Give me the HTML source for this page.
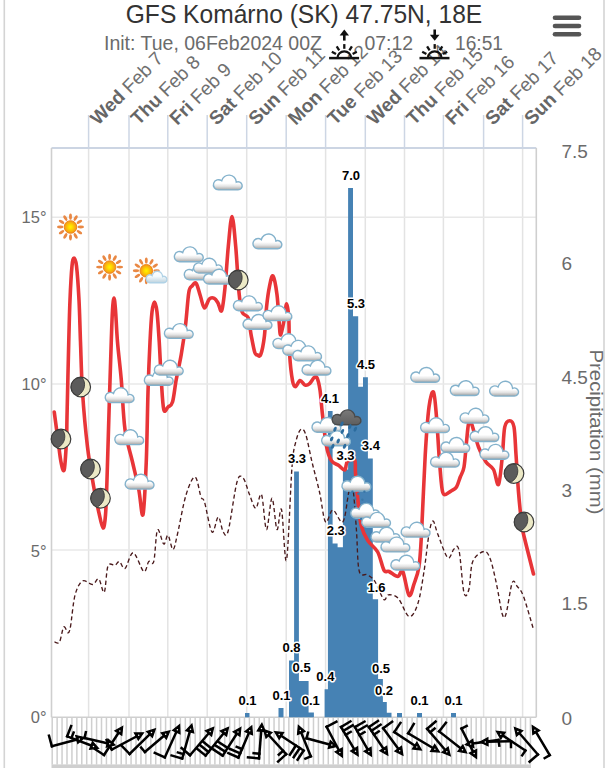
<!DOCTYPE html><html><head><meta charset="utf-8"><style>html,body{margin:0;padding:0;background:#fff;}body{position:relative;width:608px;height:768px;overflow:hidden;}svg{display:block;}</style></head><body>
<svg width="608" height="768" viewBox="0 0 608 768" font-family="Liberation Sans, sans-serif">
<defs><radialGradient id="sunG" cx="0.5" cy="0.5" r="0.5"><stop offset="0" stop-color="#fff500"/><stop offset="0.35" stop-color="#ffd800"/><stop offset="0.8" stop-color="#f7a814"/><stop offset="1" stop-color="#ef8a1a"/></radialGradient><linearGradient id="cloudG" x1="0" y1="0" x2="0" y2="1"><stop offset="0" stop-color="#ffffff"/><stop offset="0.55" stop-color="#ffffff"/><stop offset="0.75" stop-color="#e4e4e4"/><stop offset="0.92" stop-color="#b9b9b9"/><stop offset="1" stop-color="#9a9a9a"/></linearGradient><linearGradient id="cloudG2" x1="0" y1="0" x2="0" y2="1"><stop offset="0" stop-color="#ffffff"/><stop offset="0.45" stop-color="#f4fafd"/><stop offset="1" stop-color="#bcd2de"/></linearGradient><linearGradient id="darkG" x1="0" y1="0" x2="0" y2="1"><stop offset="0" stop-color="#7a7a7a"/><stop offset="1" stop-color="#5e5e5e"/></linearGradient></defs>
<rect width="608" height="768" fill="#fff"/>
<rect x="3.5" y="0" width="1.6" height="768" fill="#d4d4d4"/>
<rect x="603.2" y="0" width="1.6" height="768" fill="#d4d4d4"/>
<text x="304" y="22.6" font-size="25.8" fill="#333" text-anchor="middle" textLength="356.5" lengthAdjust="spacingAndGlyphs">GFS Komárno (SK) 47.75N, 18E</text>
<text x="104" y="49.8" font-size="20" fill="#6b6b6b" textLength="218" lengthAdjust="spacingAndGlyphs">Init: Tue, 06Feb2024 00Z</text>
<text x="364.4" y="49.8" font-size="20" fill="#6b6b6b" textLength="48.6" lengthAdjust="spacingAndGlyphs">07:12</text>
<text x="455" y="49.8" font-size="20" fill="#6b6b6b" textLength="48" lengthAdjust="spacingAndGlyphs">16:51</text>
<line x1="555" y1="17.8" x2="579" y2="17.8" stroke="#555" stroke-width="4.6" stroke-linecap="round"/>
<line x1="555" y1="26.0" x2="579" y2="26.0" stroke="#555" stroke-width="4.6" stroke-linecap="round"/>
<line x1="555" y1="34.2" x2="579" y2="34.2" stroke="#555" stroke-width="4.6" stroke-linecap="round"/>
<text transform="translate(98.10,126.00) rotate(-45)" font-size="19" fill="#666"><tspan font-weight="bold">Wed</tspan><tspan fill="#707070"> Feb 7</tspan></text>
<text transform="translate(138.50,126.00) rotate(-45)" font-size="19" fill="#666"><tspan font-weight="bold">Thu</tspan><tspan fill="#707070"> Feb 8</tspan></text>
<text transform="translate(177.30,126.00) rotate(-45)" font-size="19" fill="#666"><tspan font-weight="bold">Fri</tspan><tspan fill="#707070"> Feb 9</tspan></text>
<text transform="translate(216.70,126.00) rotate(-45)" font-size="19" fill="#666"><tspan font-weight="bold">Sat</tspan><tspan fill="#707070"> Feb 10</tspan></text>
<text transform="translate(256.20,126.00) rotate(-45)" font-size="19" fill="#666"><tspan font-weight="bold">Sun</tspan><tspan fill="#707070"> Feb 11</tspan></text>
<text transform="translate(295.70,126.00) rotate(-45)" font-size="19" fill="#666"><tspan font-weight="bold">Mon</tspan><tspan fill="#707070"> Feb 12</tspan></text>
<text transform="translate(335.10,126.00) rotate(-45)" font-size="19" fill="#666"><tspan font-weight="bold">Tue</tspan><tspan fill="#707070"> Feb 13</tspan></text>
<text transform="translate(374.80,126.00) rotate(-45)" font-size="19" fill="#666"><tspan font-weight="bold">Wed</tspan><tspan fill="#707070"> Feb 14</tspan></text>
<text transform="translate(414.00,126.00) rotate(-45)" font-size="19" fill="#666"><tspan font-weight="bold">Thu</tspan><tspan fill="#707070"> Feb 15</tspan></text>
<text transform="translate(452.90,126.00) rotate(-45)" font-size="19" fill="#666"><tspan font-weight="bold">Fri</tspan><tspan fill="#707070"> Feb 16</tspan></text>
<text transform="translate(493.10,126.00) rotate(-45)" font-size="19" fill="#666"><tspan font-weight="bold">Sat</tspan><tspan fill="#707070"> Feb 17</tspan></text>
<text transform="translate(532.10,126.00) rotate(-45)" font-size="19" fill="#666"><tspan font-weight="bold">Sun</tspan><tspan fill="#707070"> Feb 18</tspan></text>
<g stroke="#111" fill="none" stroke-linecap="butt"><line x1="329.1" y1="58.1" x2="359.1" y2="58.1" stroke-width="2.5"/><path d="M337.5,58.1 A6.8,6.8 0 0 1 351.1,58.1" stroke-width="2.2"/><line x1="352.6" y1="53.9" x2="356.8" y2="51.7" stroke-width="2.3"/><line x1="349.4" y1="50.3" x2="351.9" y2="46.4" stroke-width="2.3"/><line x1="344.3" y1="48.8" x2="344.3" y2="44.1" stroke-width="2.3"/><line x1="339.2" y1="50.3" x2="336.7" y2="46.4" stroke-width="2.3"/><line x1="336.0" y1="53.9" x2="331.8" y2="51.7" stroke-width="2.3"/></g><line x1="344.3" y1="40.6" x2="344.3" y2="35.0" stroke="#111" stroke-width="2.6"/><path d="M339.6,35.6 L344.3,29.6 L349.0,35.6 Z" fill="#111"/>
<g stroke="#111" fill="none" stroke-linecap="butt"><line x1="419.5" y1="58.1" x2="449.5" y2="58.1" stroke-width="2.5"/><path d="M427.9,58.1 A6.8,6.8 0 0 1 441.5,58.1" stroke-width="2.2"/><line x1="443.0" y1="53.9" x2="447.2" y2="51.7" stroke-width="2.3"/><line x1="439.8" y1="50.3" x2="442.3" y2="46.4" stroke-width="2.3"/><line x1="434.7" y1="48.8" x2="434.7" y2="44.1" stroke-width="2.3"/><line x1="429.6" y1="50.3" x2="427.1" y2="46.4" stroke-width="2.3"/><line x1="426.4" y1="53.9" x2="422.2" y2="51.7" stroke-width="2.3"/></g><line x1="434.7" y1="29.5" x2="434.7" y2="35.5" stroke="#111" stroke-width="2.6"/><path d="M429.9,34.8 L434.7,40.8 L439.5,34.8 Z" fill="#111"/>
<line x1="88.60" y1="115" x2="88.60" y2="148" stroke="#cdd6e4" stroke-width="1.5"/>
<line x1="129.00" y1="115" x2="129.00" y2="148" stroke="#cdd6e4" stroke-width="1.5"/>
<line x1="167.80" y1="115" x2="167.80" y2="148" stroke="#cdd6e4" stroke-width="1.5"/>
<line x1="207.20" y1="115" x2="207.20" y2="148" stroke="#cdd6e4" stroke-width="1.5"/>
<line x1="246.70" y1="115" x2="246.70" y2="148" stroke="#cdd6e4" stroke-width="1.5"/>
<line x1="286.20" y1="115" x2="286.20" y2="148" stroke="#cdd6e4" stroke-width="1.5"/>
<line x1="325.60" y1="115" x2="325.60" y2="148" stroke="#cdd6e4" stroke-width="1.5"/>
<line x1="365.30" y1="115" x2="365.30" y2="148" stroke="#cdd6e4" stroke-width="1.5"/>
<line x1="404.50" y1="115" x2="404.50" y2="148" stroke="#cdd6e4" stroke-width="1.5"/>
<line x1="443.40" y1="115" x2="443.40" y2="148" stroke="#cdd6e4" stroke-width="1.5"/>
<line x1="483.60" y1="115" x2="483.60" y2="148" stroke="#cdd6e4" stroke-width="1.5"/>
<line x1="522.60" y1="115" x2="522.60" y2="148" stroke="#cdd6e4" stroke-width="1.5"/>
<line x1="88.60" y1="148" x2="88.60" y2="717" stroke="#e3e3e3" stroke-width="1.5"/>
<line x1="129.00" y1="148" x2="129.00" y2="717" stroke="#e3e3e3" stroke-width="1.5"/>
<line x1="167.80" y1="148" x2="167.80" y2="717" stroke="#e3e3e3" stroke-width="1.5"/>
<line x1="207.20" y1="148" x2="207.20" y2="717" stroke="#e3e3e3" stroke-width="1.5"/>
<line x1="246.70" y1="148" x2="246.70" y2="717" stroke="#e3e3e3" stroke-width="1.5"/>
<line x1="286.20" y1="148" x2="286.20" y2="717" stroke="#e3e3e3" stroke-width="1.5"/>
<line x1="325.60" y1="148" x2="325.60" y2="717" stroke="#e3e3e3" stroke-width="1.5"/>
<line x1="365.30" y1="148" x2="365.30" y2="717" stroke="#e3e3e3" stroke-width="1.5"/>
<line x1="404.50" y1="148" x2="404.50" y2="717" stroke="#e3e3e3" stroke-width="1.5"/>
<line x1="443.40" y1="148" x2="443.40" y2="717" stroke="#e3e3e3" stroke-width="1.5"/>
<line x1="483.60" y1="148" x2="483.60" y2="717" stroke="#e3e3e3" stroke-width="1.5"/>
<line x1="522.60" y1="148" x2="522.60" y2="717" stroke="#e3e3e3" stroke-width="1.5"/>
<line x1="51.5" y1="217.2" x2="536.3" y2="217.2" stroke="#e8e8e8" stroke-width="1.5"/>
<line x1="51.5" y1="384.0" x2="536.3" y2="384.0" stroke="#e8e8e8" stroke-width="1.5"/>
<line x1="51.5" y1="550.0" x2="536.3" y2="550.0" stroke="#e8e8e8" stroke-width="1.5"/>
<line x1="51.5" y1="148" x2="536.3" y2="148" stroke="#ccd5e3" stroke-width="2"/>
<line x1="51.5" y1="148" x2="51.5" y2="717.2" stroke="#cfcfcf" stroke-width="1.6"/>
<line x1="536.3" y1="148" x2="536.3" y2="717.2" stroke="#cfcfcf" stroke-width="1.6"/>
<text x="46.5" y="223.4" font-size="16.5" fill="#6b6b6b" text-anchor="end">15°</text>
<text x="46.5" y="390.0" font-size="16.5" fill="#6b6b6b" text-anchor="end">10°</text>
<text x="46.5" y="556.5" font-size="16.5" fill="#6b6b6b" text-anchor="end">5°</text>
<text x="46.5" y="723.4" font-size="16.5" fill="#6b6b6b" text-anchor="end">0°</text>
<text x="561.5" y="157.5" font-size="19" fill="#6b6b6b">7.5</text>
<text x="561.5" y="270.2" font-size="19" fill="#6b6b6b">6</text>
<text x="561.5" y="384.2" font-size="19" fill="#6b6b6b">4.5</text>
<text x="561.5" y="496.9" font-size="19" fill="#6b6b6b">3</text>
<text x="561.5" y="610.3" font-size="19" fill="#6b6b6b">1.5</text>
<text x="561.5" y="724.6" font-size="19" fill="#6b6b6b">0</text>
<text transform="translate(589.5,432) rotate(90)" font-size="19" fill="#6b6b6b" text-anchor="middle" textLength="165" lengthAdjust="spacingAndGlyphs">Precipitation (mm)</text>
<rect x="51.5" y="717.2" width="479.5" height="47.5" fill="#fff"/>
<rect x="51.45" y="717.2" width="1.5" height="47.4" fill="#cfcfcf"/>
<rect x="56.38" y="717.2" width="1.5" height="47.4" fill="#cfcfcf"/>
<rect x="61.31" y="717.2" width="1.5" height="47.4" fill="#cfcfcf"/>
<rect x="66.24" y="717.2" width="1.5" height="47.4" fill="#cfcfcf"/>
<rect x="71.17" y="717.2" width="1.5" height="47.4" fill="#cfcfcf"/>
<rect x="76.10" y="717.2" width="1.5" height="47.4" fill="#cfcfcf"/>
<rect x="81.03" y="717.2" width="1.5" height="47.4" fill="#cfcfcf"/>
<rect x="85.96" y="717.2" width="1.5" height="47.4" fill="#cfcfcf"/>
<rect x="90.89" y="717.2" width="1.5" height="47.4" fill="#cfcfcf"/>
<rect x="95.82" y="717.2" width="1.5" height="47.4" fill="#cfcfcf"/>
<rect x="100.75" y="717.2" width="1.5" height="47.4" fill="#cfcfcf"/>
<rect x="105.68" y="717.2" width="1.5" height="47.4" fill="#cfcfcf"/>
<rect x="110.61" y="717.2" width="1.5" height="47.4" fill="#cfcfcf"/>
<rect x="115.54" y="717.2" width="1.5" height="47.4" fill="#cfcfcf"/>
<rect x="120.47" y="717.2" width="1.5" height="47.4" fill="#cfcfcf"/>
<rect x="125.40" y="717.2" width="1.5" height="47.4" fill="#cfcfcf"/>
<rect x="130.33" y="717.2" width="1.5" height="47.4" fill="#cfcfcf"/>
<rect x="135.26" y="717.2" width="1.5" height="47.4" fill="#cfcfcf"/>
<rect x="140.19" y="717.2" width="1.5" height="47.4" fill="#cfcfcf"/>
<rect x="145.12" y="717.2" width="1.5" height="47.4" fill="#cfcfcf"/>
<rect x="150.05" y="717.2" width="1.5" height="47.4" fill="#cfcfcf"/>
<rect x="154.98" y="717.2" width="1.5" height="47.4" fill="#cfcfcf"/>
<rect x="159.91" y="717.2" width="1.5" height="47.4" fill="#cfcfcf"/>
<rect x="164.84" y="717.2" width="1.5" height="47.4" fill="#cfcfcf"/>
<rect x="169.77" y="717.2" width="1.5" height="47.4" fill="#cfcfcf"/>
<rect x="174.70" y="717.2" width="1.5" height="47.4" fill="#cfcfcf"/>
<rect x="179.63" y="717.2" width="1.5" height="47.4" fill="#cfcfcf"/>
<rect x="184.56" y="717.2" width="1.5" height="47.4" fill="#cfcfcf"/>
<rect x="189.49" y="717.2" width="1.5" height="47.4" fill="#cfcfcf"/>
<rect x="194.42" y="717.2" width="1.5" height="47.4" fill="#cfcfcf"/>
<rect x="199.35" y="717.2" width="1.5" height="47.4" fill="#cfcfcf"/>
<rect x="204.28" y="717.2" width="1.5" height="47.4" fill="#cfcfcf"/>
<rect x="209.21" y="717.2" width="1.5" height="47.4" fill="#cfcfcf"/>
<rect x="214.14" y="717.2" width="1.5" height="47.4" fill="#cfcfcf"/>
<rect x="219.07" y="717.2" width="1.5" height="47.4" fill="#cfcfcf"/>
<rect x="224.00" y="717.2" width="1.5" height="47.4" fill="#cfcfcf"/>
<rect x="228.93" y="717.2" width="1.5" height="47.4" fill="#cfcfcf"/>
<rect x="233.86" y="717.2" width="1.5" height="47.4" fill="#cfcfcf"/>
<rect x="238.79" y="717.2" width="1.5" height="47.4" fill="#cfcfcf"/>
<rect x="243.72" y="717.2" width="1.5" height="47.4" fill="#cfcfcf"/>
<rect x="248.65" y="717.2" width="1.5" height="47.4" fill="#cfcfcf"/>
<rect x="253.58" y="717.2" width="1.5" height="47.4" fill="#cfcfcf"/>
<rect x="258.51" y="717.2" width="1.5" height="47.4" fill="#cfcfcf"/>
<rect x="263.44" y="717.2" width="1.5" height="47.4" fill="#cfcfcf"/>
<rect x="268.37" y="717.2" width="1.5" height="47.4" fill="#cfcfcf"/>
<rect x="273.30" y="717.2" width="1.5" height="47.4" fill="#cfcfcf"/>
<rect x="278.23" y="717.2" width="1.5" height="47.4" fill="#cfcfcf"/>
<rect x="283.16" y="717.2" width="1.5" height="47.4" fill="#cfcfcf"/>
<rect x="288.09" y="717.2" width="1.5" height="47.4" fill="#cfcfcf"/>
<rect x="293.02" y="717.2" width="1.5" height="47.4" fill="#cfcfcf"/>
<rect x="297.95" y="717.2" width="1.5" height="47.4" fill="#cfcfcf"/>
<rect x="302.88" y="717.2" width="1.5" height="47.4" fill="#cfcfcf"/>
<rect x="307.81" y="717.2" width="1.5" height="47.4" fill="#cfcfcf"/>
<rect x="312.74" y="717.2" width="1.5" height="47.4" fill="#cfcfcf"/>
<rect x="317.67" y="717.2" width="1.5" height="47.4" fill="#cfcfcf"/>
<rect x="322.60" y="717.2" width="1.5" height="47.4" fill="#cfcfcf"/>
<rect x="327.53" y="717.2" width="1.5" height="47.4" fill="#cfcfcf"/>
<rect x="332.46" y="717.2" width="1.5" height="47.4" fill="#cfcfcf"/>
<rect x="337.39" y="717.2" width="1.5" height="47.4" fill="#cfcfcf"/>
<rect x="342.32" y="717.2" width="1.5" height="47.4" fill="#cfcfcf"/>
<rect x="347.25" y="717.2" width="1.5" height="47.4" fill="#cfcfcf"/>
<rect x="352.18" y="717.2" width="1.5" height="47.4" fill="#cfcfcf"/>
<rect x="357.11" y="717.2" width="1.5" height="47.4" fill="#cfcfcf"/>
<rect x="362.04" y="717.2" width="1.5" height="47.4" fill="#cfcfcf"/>
<rect x="366.97" y="717.2" width="1.5" height="47.4" fill="#cfcfcf"/>
<rect x="371.90" y="717.2" width="1.5" height="47.4" fill="#cfcfcf"/>
<rect x="376.83" y="717.2" width="1.5" height="47.4" fill="#cfcfcf"/>
<rect x="381.76" y="717.2" width="1.5" height="47.4" fill="#cfcfcf"/>
<rect x="386.69" y="717.2" width="1.5" height="47.4" fill="#cfcfcf"/>
<rect x="391.62" y="717.2" width="1.5" height="47.4" fill="#cfcfcf"/>
<rect x="396.55" y="717.2" width="1.5" height="47.4" fill="#cfcfcf"/>
<rect x="401.48" y="717.2" width="1.5" height="47.4" fill="#cfcfcf"/>
<rect x="406.41" y="717.2" width="1.5" height="47.4" fill="#cfcfcf"/>
<rect x="411.34" y="717.2" width="1.5" height="47.4" fill="#cfcfcf"/>
<rect x="416.27" y="717.2" width="1.5" height="47.4" fill="#cfcfcf"/>
<rect x="421.20" y="717.2" width="1.5" height="47.4" fill="#cfcfcf"/>
<rect x="426.13" y="717.2" width="1.5" height="47.4" fill="#cfcfcf"/>
<rect x="431.06" y="717.2" width="1.5" height="47.4" fill="#cfcfcf"/>
<rect x="435.99" y="717.2" width="1.5" height="47.4" fill="#cfcfcf"/>
<rect x="440.92" y="717.2" width="1.5" height="47.4" fill="#cfcfcf"/>
<rect x="445.85" y="717.2" width="1.5" height="47.4" fill="#cfcfcf"/>
<rect x="450.78" y="717.2" width="1.5" height="47.4" fill="#cfcfcf"/>
<rect x="455.71" y="717.2" width="1.5" height="47.4" fill="#cfcfcf"/>
<rect x="460.64" y="717.2" width="1.5" height="47.4" fill="#cfcfcf"/>
<rect x="465.57" y="717.2" width="1.5" height="47.4" fill="#cfcfcf"/>
<rect x="470.50" y="717.2" width="1.5" height="47.4" fill="#cfcfcf"/>
<rect x="475.43" y="717.2" width="1.5" height="47.4" fill="#cfcfcf"/>
<rect x="480.36" y="717.2" width="1.5" height="47.4" fill="#cfcfcf"/>
<rect x="485.29" y="717.2" width="1.5" height="47.4" fill="#cfcfcf"/>
<rect x="490.22" y="717.2" width="1.5" height="47.4" fill="#cfcfcf"/>
<rect x="495.15" y="717.2" width="1.5" height="47.4" fill="#cfcfcf"/>
<rect x="500.08" y="717.2" width="1.5" height="47.4" fill="#cfcfcf"/>
<rect x="505.01" y="717.2" width="1.5" height="47.4" fill="#cfcfcf"/>
<rect x="509.94" y="717.2" width="1.5" height="47.4" fill="#cfcfcf"/>
<rect x="514.87" y="717.2" width="1.5" height="47.4" fill="#cfcfcf"/>
<rect x="519.80" y="717.2" width="1.5" height="47.4" fill="#cfcfcf"/>
<rect x="524.73" y="717.2" width="1.5" height="47.4" fill="#cfcfcf"/>
<rect x="529.66" y="717.2" width="1.5" height="47.4" fill="#cfcfcf"/>
<line x1="51.5" y1="717.2" x2="536.3" y2="717.2" stroke="#cfcfcf" stroke-width="1.6"/>
<rect x="51.5" y="764.4" width="479.5" height="3.6" fill="#cfcfcf"/>
<path d="M245.00,713.00H249.50V717.2H245.00ZM278.50,708.00H283.50V717.2H278.50ZM289.00,660.50H294.10V717.2H289.00ZM294.10,471.50H298.90V717.2H294.10ZM298.90,681.00H308.60V717.2H298.90ZM308.60,712.60H313.90V717.2H308.60ZM324.60,689.20H327.90V717.2H324.60ZM327.90,411.00H332.60V717.2H327.90ZM332.60,543.50H337.60V717.2H332.60ZM337.60,547.20H342.90V717.2H337.60ZM342.90,469.60H348.10V717.2H342.90ZM348.10,188.00H353.00V717.2H348.10ZM353.00,316.30H358.20V717.2H353.00ZM358.20,386.80H363.00V717.2H358.20ZM363.00,377.20H367.90V717.2H363.00ZM367.90,458.50H372.80V717.2H367.90ZM372.80,599.20H378.10V717.2H372.80ZM378.10,679.00H382.90V717.2H378.10ZM382.90,702.00H386.80V717.2H382.90ZM386.80,712.80H391.50V717.2H386.80ZM397.00,713.00H402.00V717.2H397.00ZM417.00,713.00H422.00V717.2H417.00ZM451.00,713.00H456.00V717.2H451.00Z" fill="#4682b4"/>
<path d="M54.50,642.00 C55.33,642.00 57.96,644.50 59.50,642.00 C61.04,639.50 62.33,628.54 63.75,627.00 C65.17,625.46 66.88,632.83 68.00,632.75 C69.12,632.67 69.33,632.75 70.50,626.50 C71.67,620.25 73.00,602.83 75.00,595.25 C77.00,587.67 79.58,582.79 82.50,581.00 C85.42,579.21 89.79,584.83 92.50,584.50 C95.21,584.17 96.79,577.71 98.75,579.00 C100.71,580.29 102.71,594.42 104.25,592.25 C105.79,590.08 106.21,570.50 108.00,566.00 C109.79,561.50 113.08,566.00 115.00,565.25 C116.92,564.50 117.83,560.96 119.50,561.50 C121.17,562.04 122.71,569.96 125.00,568.50 C127.29,567.04 130.12,552.25 133.25,552.75 C136.38,553.25 141.17,570.04 143.75,571.50 C146.33,572.96 147.08,563.17 148.75,561.50 C150.42,559.83 152.29,566.75 153.75,561.50 C155.21,556.25 155.83,532.92 157.50,530.00 C159.17,527.08 162.00,543.12 163.75,544.00 C165.50,544.88 166.46,534.33 168.00,535.25 C169.54,536.17 171.42,549.71 173.00,549.50 C174.58,549.29 175.33,543.08 177.50,534.00 C179.67,524.92 183.08,504.50 186.00,495.00 C188.92,485.50 192.50,476.67 195.00,477.00 C197.50,477.33 199.42,492.83 201.00,497.00 C202.58,501.17 202.67,496.17 204.50,502.00 C206.33,507.83 209.71,529.50 212.00,532.00 C214.29,534.50 216.38,517.00 218.25,517.00 C220.12,517.00 221.58,529.71 223.25,532.00 C224.92,534.29 225.96,539.08 228.25,530.75 C230.54,522.42 234.50,490.75 237.00,482.00 C239.50,473.25 241.17,476.17 243.25,478.25 C245.33,480.33 247.42,489.50 249.50,494.50 C251.58,499.50 253.75,508.25 255.75,508.25 C257.75,508.25 259.71,490.96 261.50,494.50 C263.29,498.04 264.75,528.88 266.50,529.50 C268.25,530.12 270.25,498.25 272.00,498.25 C273.75,498.25 275.42,527.62 277.00,529.50 C278.58,531.38 279.92,504.42 281.50,509.50 C283.08,514.58 284.75,567.08 286.50,560.00 C288.25,552.92 290.46,486.67 292.00,467.00 C293.54,447.33 294.29,448.25 295.75,442.00 C297.21,435.75 299.08,430.75 300.75,429.50 C302.42,428.25 303.88,429.08 305.75,434.50 C307.62,439.92 309.71,452.42 312.00,462.00 C314.29,471.58 317.25,482.02 319.50,492.00 C321.75,501.98 323.28,518.90 325.50,521.90 C327.72,524.90 329.92,510.00 332.80,510.00 C335.68,510.00 340.22,524.47 342.80,521.90 C345.38,519.33 346.93,501.58 348.30,494.60 C349.67,487.62 350.10,480.00 351.00,480.00 C351.90,480.00 352.78,486.10 353.70,494.60 C354.62,503.10 355.58,518.27 356.50,531.00 C357.42,543.73 357.38,563.70 359.20,571.00 C361.02,578.30 364.82,573.10 367.40,574.80 C369.98,576.50 371.97,577.10 374.70,581.20 C377.43,585.30 381.52,597.13 383.80,599.40 C386.08,601.67 385.97,594.95 388.40,594.80 C390.83,594.65 394.97,594.88 398.40,598.50 C401.83,602.12 405.77,615.58 409.00,616.50 C412.23,617.42 415.25,611.50 417.75,604.00 C420.25,596.50 422.12,583.17 424.00,571.50 C425.88,559.83 427.50,542.42 429.00,534.00 C430.50,525.58 431.54,521.00 433.00,521.00 C434.46,521.00 435.29,527.88 437.75,534.00 C440.21,540.12 445.04,555.25 447.75,557.75 C450.46,560.25 452.12,550.25 454.00,549.00 C455.88,547.75 457.33,542.96 459.00,550.25 C460.67,557.54 462.33,586.29 464.00,592.75 C465.67,599.21 467.54,594.21 469.00,589.00 C470.46,583.79 470.25,567.75 472.75,561.50 C475.25,555.25 481.08,551.92 484.00,551.50 C486.92,551.08 488.17,553.58 490.25,559.00 C492.33,564.42 494.50,574.83 496.50,584.00 C498.50,593.17 500.67,609.00 502.25,614.00 C503.83,619.00 504.33,619.21 506.00,614.00 C507.67,608.79 510.38,587.33 512.25,582.75 C514.12,578.17 515.38,584.21 517.25,586.50 C519.12,588.79 520.88,589.62 523.50,596.50 C526.12,603.38 531.42,622.54 533.00,627.75" fill="none" stroke="#4a1a1c" stroke-width="1.35" stroke-dasharray="4.2,2.8"/>
<path d="M54.25,412.00 C54.88,416.67 56.88,431.67 58.00,440.00 C59.12,448.33 59.96,457.08 61.00,462.00 C62.04,466.92 63.33,473.17 64.25,469.50 C65.17,465.83 66.04,448.75 66.50,440.00 C66.96,431.25 66.62,433.33 67.00,417.00 C67.38,400.67 68.25,361.50 68.75,342.00 C69.25,322.50 69.46,312.67 70.00,300.00 C70.54,287.33 71.33,273.00 72.00,266.00 C72.67,259.00 73.25,258.00 74.00,258.00 C74.75,258.00 75.67,259.00 76.50,266.00 C77.33,273.00 78.33,287.33 79.00,300.00 C79.67,312.67 79.92,326.67 80.50,342.00 C81.08,357.33 81.33,374.50 82.50,392.00 C83.67,409.50 85.62,431.17 87.50,447.00 C89.38,462.83 91.88,476.17 93.75,487.00 C95.62,497.83 97.21,505.17 98.75,512.00 C100.29,518.83 101.88,527.50 103.00,528.00 C104.12,528.50 104.83,523.08 105.50,515.00 C106.17,506.92 106.38,497.92 107.00,479.50 C107.62,461.08 108.54,427.42 109.25,404.50 C109.96,381.58 110.71,357.75 111.25,342.00 C111.79,326.25 112.04,317.33 112.50,310.00 C112.96,302.67 113.50,298.00 114.00,298.00 C114.50,298.00 114.92,302.67 115.50,310.00 C116.08,317.33 116.54,330.42 117.50,342.00 C118.46,353.58 120.00,364.92 121.25,379.50 C122.50,394.08 123.12,415.75 125.00,429.50 C126.88,443.25 130.21,452.00 132.50,462.00 C134.79,472.00 137.00,480.75 138.75,489.50 C140.50,498.25 141.75,519.08 143.00,514.50 C144.25,509.92 145.42,482.42 146.25,462.00 C147.08,441.58 147.38,412.00 148.00,392.00 C148.62,372.00 149.33,355.33 150.00,342.00 C150.67,328.67 151.25,318.67 152.00,312.00 C152.75,305.33 153.67,302.00 154.50,302.00 C155.33,302.00 156.21,305.33 157.00,312.00 C157.79,318.67 158.54,330.75 159.25,342.00 C159.96,353.25 160.50,368.25 161.25,379.50 C162.00,390.75 162.62,404.92 163.75,409.50 C164.88,414.08 166.54,408.25 168.00,407.00 C169.46,405.75 171.12,406.58 172.50,402.00 C173.88,397.42 174.79,387.42 176.25,379.50 C177.71,371.58 179.71,363.52 181.25,354.50 C182.79,345.48 184.24,335.73 185.50,325.40 C186.76,315.07 187.72,299.07 188.80,292.50 C189.88,285.93 190.77,287.50 192.00,286.00 C193.23,284.50 194.82,281.87 196.20,283.50 C197.58,285.13 198.93,291.72 200.30,295.80 C201.67,299.88 202.90,307.47 204.40,308.00 C205.90,308.53 207.65,300.62 209.30,299.00 C210.95,297.38 212.85,297.63 214.30,298.30 C215.75,298.97 216.77,300.95 218.00,303.00 C219.23,305.05 220.53,313.17 221.70,310.60 C222.87,308.03 223.90,298.30 225.00,287.60 C226.10,276.90 227.13,258.25 228.30,246.40 C229.47,234.55 230.77,216.50 232.00,216.50 C233.23,216.50 234.53,233.73 235.70,246.40 C236.87,259.07 237.92,281.53 239.00,292.50 C240.08,303.47 240.68,308.00 242.20,312.20 C243.72,316.40 246.62,313.93 248.10,317.70 C249.58,321.47 249.98,329.00 251.10,334.80 C252.22,340.60 253.73,349.13 254.80,352.50 C255.87,355.87 256.52,354.63 257.50,355.00 C258.48,355.37 259.55,357.83 260.70,354.70 C261.85,351.57 263.42,344.22 264.40,336.20 C265.38,328.18 265.73,314.98 266.60,306.60 C267.47,298.22 268.53,291.00 269.60,285.90 C270.67,280.80 271.77,274.52 273.00,276.00 C274.23,277.48 275.97,286.98 277.00,294.80 C278.03,302.62 278.58,316.23 279.20,322.90 C279.82,329.57 279.83,335.53 280.70,334.80 C281.57,334.07 283.42,323.68 284.40,318.50 C285.38,313.32 285.87,303.70 286.60,303.70 C287.33,303.70 288.30,310.12 288.80,318.50 C289.30,326.88 288.98,343.65 289.60,354.00 C290.22,364.35 291.52,375.17 292.50,380.60 C293.48,386.03 294.25,386.60 295.50,386.60 C296.75,386.60 298.40,380.85 300.00,380.60 C301.60,380.35 303.50,384.60 305.10,385.10 C306.70,385.60 308.12,384.83 309.60,383.60 C311.08,382.37 312.77,378.68 314.00,377.70 C315.23,376.72 316.00,375.65 317.00,377.70 C318.00,379.75 319.12,384.12 320.00,390.00 C320.88,395.88 321.23,403.70 322.30,413.00 C323.37,422.30 324.88,437.87 326.40,445.80 C327.92,453.73 329.33,457.32 331.40,460.60 C333.47,463.88 336.57,463.95 338.80,465.50 C341.03,467.05 343.38,470.55 344.80,469.90 C346.22,469.25 345.65,463.25 347.30,461.60 C348.95,459.95 353.33,458.10 354.70,460.00 C356.07,461.90 354.95,466.17 355.50,473.00 C356.05,479.83 357.04,492.20 358.00,501.00 C358.96,509.80 359.62,519.20 361.25,525.80 C362.88,532.40 365.06,536.23 367.80,540.60 C370.54,544.97 375.00,547.06 377.70,552.00 C380.40,556.94 382.12,567.00 384.00,570.25 C385.88,573.50 386.71,570.46 389.00,571.50 C391.29,572.54 395.46,576.50 397.75,576.50 C400.04,576.50 400.88,568.38 402.75,571.50 C404.62,574.62 407.12,593.17 409.00,595.25 C410.88,597.33 412.33,588.79 414.00,584.00 C415.67,579.21 417.75,574.83 419.00,566.50 C420.25,558.17 420.46,552.67 421.50,534.00 C422.54,515.33 424.00,475.67 425.25,454.50 C426.50,433.33 427.62,417.42 429.00,407.00 C430.38,396.58 432.25,390.33 433.50,392.00 C434.75,393.67 435.58,406.58 436.50,417.00 C437.42,427.42 438.17,443.25 439.00,454.50 C439.83,465.75 440.67,477.83 441.50,484.50 C442.33,491.17 442.33,493.46 444.00,494.50 C445.67,495.54 449.42,492.00 451.50,490.75 C453.58,489.50 455.04,489.29 456.50,487.00 C457.96,484.71 459.00,480.33 460.25,477.00 C461.50,473.67 462.96,472.83 464.00,467.00 C465.04,461.17 465.75,449.17 466.50,442.00 C467.25,434.83 467.75,427.33 468.50,424.00 C469.25,420.67 469.33,418.17 471.00,422.00 C472.67,425.83 476.00,440.33 478.50,447.00 C481.00,453.67 483.50,458.25 486.00,462.00 C488.50,465.75 491.42,465.75 493.50,469.50 C495.58,473.25 497.04,486.58 498.50,484.50 C499.96,482.42 501.21,466.58 502.25,457.00 C503.29,447.42 503.50,433.04 504.75,427.00 C506.00,420.96 508.21,420.75 509.75,420.75 C511.29,420.75 512.96,421.38 514.00,427.00 C515.04,432.62 515.25,443.67 516.00,454.50 C516.75,465.33 517.58,480.75 518.50,492.00 C519.42,503.25 520.67,515.00 521.50,522.00 C522.33,529.00 521.50,525.33 523.50,534.00 C525.50,542.67 531.83,567.33 533.50,574.00" fill="none" stroke="#e83538" stroke-width="3.6" stroke-linejoin="round" stroke-linecap="round"/>
<g transform="translate(61.00,439.00)"><circle r="9.8" fill="#ece9c6" stroke="#3a3a3a" stroke-width="1.2"/><path d="M1.6,-9.0 C5.2,-4.8 4.9,4.0 -2.8,8.6 A9.05,9.05 0 0 1 1.6,-9.0 Z" fill="#5b5b5b" stroke="#3a3a3a" stroke-width="0.9"/></g>
<g transform="translate(70.50,227.00) scale(1.000)"><ellipse cx="0" cy="-10.3" rx="1.45" ry="3.1" fill="#e8823a" opacity="0.95" transform="rotate(0)"/><ellipse cx="0" cy="-10.3" rx="1.45" ry="3.1" fill="#e8823a" opacity="0.95" transform="rotate(30)"/><ellipse cx="0" cy="-10.3" rx="1.45" ry="3.1" fill="#e8823a" opacity="0.95" transform="rotate(60)"/><ellipse cx="0" cy="-10.3" rx="1.45" ry="3.1" fill="#e8823a" opacity="0.95" transform="rotate(90)"/><ellipse cx="0" cy="-10.3" rx="1.45" ry="3.1" fill="#e8823a" opacity="0.95" transform="rotate(120)"/><ellipse cx="0" cy="-10.3" rx="1.45" ry="3.1" fill="#e8823a" opacity="0.95" transform="rotate(150)"/><ellipse cx="0" cy="-10.3" rx="1.45" ry="3.1" fill="#e8823a" opacity="0.95" transform="rotate(180)"/><ellipse cx="0" cy="-10.3" rx="1.45" ry="3.1" fill="#e8823a" opacity="0.95" transform="rotate(210)"/><ellipse cx="0" cy="-10.3" rx="1.45" ry="3.1" fill="#e8823a" opacity="0.95" transform="rotate(240)"/><ellipse cx="0" cy="-10.3" rx="1.45" ry="3.1" fill="#e8823a" opacity="0.95" transform="rotate(270)"/><ellipse cx="0" cy="-10.3" rx="1.45" ry="3.1" fill="#e8823a" opacity="0.95" transform="rotate(300)"/><ellipse cx="0" cy="-10.3" rx="1.45" ry="3.1" fill="#e8823a" opacity="0.95" transform="rotate(330)"/><circle r="6.3" fill="url(#sunG)" stroke="#f08a1c" stroke-width="1"/></g>
<g transform="translate(80.75,387.00)"><circle r="9.8" fill="#ece9c6" stroke="#3a3a3a" stroke-width="1.2"/><path d="M1.6,-9.0 C5.2,-4.8 4.9,4.0 -2.8,8.6 A9.05,9.05 0 0 1 1.6,-9.0 Z" fill="#5b5b5b" stroke="#3a3a3a" stroke-width="0.9"/></g>
<g transform="translate(90.50,469.00)"><circle r="9.8" fill="#ece9c6" stroke="#3a3a3a" stroke-width="1.2"/><path d="M1.6,-9.0 C5.2,-4.8 4.9,4.0 -2.8,8.6 A9.05,9.05 0 0 1 1.6,-9.0 Z" fill="#5b5b5b" stroke="#3a3a3a" stroke-width="0.9"/></g>
<g transform="translate(100.50,498.25)"><circle r="9.8" fill="#ece9c6" stroke="#3a3a3a" stroke-width="1.2"/><path d="M1.6,-9.0 C5.2,-4.8 4.9,4.0 -2.8,8.6 A9.05,9.05 0 0 1 1.6,-9.0 Z" fill="#5b5b5b" stroke="#3a3a3a" stroke-width="0.9"/></g>
<g transform="translate(109.60,267.10) scale(1.000)"><ellipse cx="0" cy="-10.3" rx="1.45" ry="3.1" fill="#e8823a" opacity="0.95" transform="rotate(0)"/><ellipse cx="0" cy="-10.3" rx="1.45" ry="3.1" fill="#e8823a" opacity="0.95" transform="rotate(30)"/><ellipse cx="0" cy="-10.3" rx="1.45" ry="3.1" fill="#e8823a" opacity="0.95" transform="rotate(60)"/><ellipse cx="0" cy="-10.3" rx="1.45" ry="3.1" fill="#e8823a" opacity="0.95" transform="rotate(90)"/><ellipse cx="0" cy="-10.3" rx="1.45" ry="3.1" fill="#e8823a" opacity="0.95" transform="rotate(120)"/><ellipse cx="0" cy="-10.3" rx="1.45" ry="3.1" fill="#e8823a" opacity="0.95" transform="rotate(150)"/><ellipse cx="0" cy="-10.3" rx="1.45" ry="3.1" fill="#e8823a" opacity="0.95" transform="rotate(180)"/><ellipse cx="0" cy="-10.3" rx="1.45" ry="3.1" fill="#e8823a" opacity="0.95" transform="rotate(210)"/><ellipse cx="0" cy="-10.3" rx="1.45" ry="3.1" fill="#e8823a" opacity="0.95" transform="rotate(240)"/><ellipse cx="0" cy="-10.3" rx="1.45" ry="3.1" fill="#e8823a" opacity="0.95" transform="rotate(270)"/><ellipse cx="0" cy="-10.3" rx="1.45" ry="3.1" fill="#e8823a" opacity="0.95" transform="rotate(300)"/><ellipse cx="0" cy="-10.3" rx="1.45" ry="3.1" fill="#e8823a" opacity="0.95" transform="rotate(330)"/><circle r="6.3" fill="url(#sunG)" stroke="#f08a1c" stroke-width="1"/></g>
<g transform="translate(104.30,385.50)"><path d="M6.00,17.10 A5.10,5.10 0 1 1 9.19,8.02 A7.40,7.40 0 0 1 23.79,9.32 A4.10,4.10 0 1 1 25.60,17.10 Z" fill="url(#cloudG)" stroke="#84b2cc" stroke-width="1.4"/></g>
<g transform="translate(113.90,427.50)"><path d="M6.00,17.10 A5.10,5.10 0 1 1 9.19,8.02 A7.40,7.40 0 0 1 23.79,9.32 A4.10,4.10 0 1 1 25.60,17.10 Z" fill="url(#cloudG)" stroke="#84b2cc" stroke-width="1.4"/></g>
<g transform="translate(124.30,472.00)"><path d="M6.00,17.10 A5.10,5.10 0 1 1 9.19,8.02 A7.40,7.40 0 0 1 23.79,9.32 A4.10,4.10 0 1 1 25.60,17.10 Z" fill="url(#cloudG)" stroke="#84b2cc" stroke-width="1.4"/></g>
<g transform="translate(146.30,270.80) scale(1.000)"><ellipse cx="0" cy="-10.3" rx="1.45" ry="3.1" fill="#e8823a" opacity="0.95" transform="rotate(0)"/><ellipse cx="0" cy="-10.3" rx="1.45" ry="3.1" fill="#e8823a" opacity="0.95" transform="rotate(30)"/><ellipse cx="0" cy="-10.3" rx="1.45" ry="3.1" fill="#e8823a" opacity="0.95" transform="rotate(60)"/><ellipse cx="0" cy="-10.3" rx="1.45" ry="3.1" fill="#e8823a" opacity="0.95" transform="rotate(90)"/><ellipse cx="0" cy="-10.3" rx="1.45" ry="3.1" fill="#e8823a" opacity="0.95" transform="rotate(120)"/><ellipse cx="0" cy="-10.3" rx="1.45" ry="3.1" fill="#e8823a" opacity="0.95" transform="rotate(150)"/><ellipse cx="0" cy="-10.3" rx="1.45" ry="3.1" fill="#e8823a" opacity="0.95" transform="rotate(180)"/><ellipse cx="0" cy="-10.3" rx="1.45" ry="3.1" fill="#e8823a" opacity="0.95" transform="rotate(210)"/><ellipse cx="0" cy="-10.3" rx="1.45" ry="3.1" fill="#e8823a" opacity="0.95" transform="rotate(240)"/><ellipse cx="0" cy="-10.3" rx="1.45" ry="3.1" fill="#e8823a" opacity="0.95" transform="rotate(270)"/><ellipse cx="0" cy="-10.3" rx="1.45" ry="3.1" fill="#e8823a" opacity="0.95" transform="rotate(300)"/><ellipse cx="0" cy="-10.3" rx="1.45" ry="3.1" fill="#e8823a" opacity="0.95" transform="rotate(330)"/><circle r="6.3" fill="url(#sunG)" stroke="#f08a1c" stroke-width="1"/></g><g transform="translate(145.50,269.40) scale(0.72,0.78)"><path d="M6.00,17.10 A5.10,5.10 0 1 1 9.19,8.02 A7.40,7.40 0 0 1 23.79,9.32 A4.10,4.10 0 1 1 25.60,17.10 Z" fill="url(#cloudG2)" stroke="#b0d2e6" stroke-width="1.8"/></g>
<g transform="translate(143.45,368.10)"><path d="M6.00,17.10 A5.10,5.10 0 1 1 9.19,8.02 A7.40,7.40 0 0 1 23.79,9.32 A4.10,4.10 0 1 1 25.60,17.10 Z" fill="url(#cloudG)" stroke="#84b2cc" stroke-width="1.4"/></g>
<g transform="translate(153.50,358.00)"><path d="M6.00,17.10 A5.10,5.10 0 1 1 9.19,8.02 A7.40,7.40 0 0 1 23.79,9.32 A4.10,4.10 0 1 1 25.60,17.10 Z" fill="url(#cloudG)" stroke="#84b2cc" stroke-width="1.4"/></g>
<g transform="translate(163.50,321.30)"><path d="M6.00,17.10 A5.10,5.10 0 1 1 9.19,8.02 A7.40,7.40 0 0 1 23.79,9.32 A4.10,4.10 0 1 1 25.60,17.10 Z" fill="url(#cloudG)" stroke="#84b2cc" stroke-width="1.4"/></g>
<g transform="translate(173.50,244.60)"><path d="M6.00,17.10 A5.10,5.10 0 1 1 9.19,8.02 A7.40,7.40 0 0 1 23.79,9.32 A4.10,4.10 0 1 1 25.60,17.10 Z" fill="url(#cloudG)" stroke="#84b2cc" stroke-width="1.4"/></g>
<g transform="translate(183.30,262.60)"><path d="M6.00,17.10 A5.10,5.10 0 1 1 9.19,8.02 A7.40,7.40 0 0 1 23.79,9.32 A4.10,4.10 0 1 1 25.60,17.10 Z" fill="url(#cloudG)" stroke="#84b2cc" stroke-width="1.4"/></g>
<g transform="translate(192.70,256.00)"><path d="M6.00,17.10 A5.10,5.10 0 1 1 9.19,8.02 A7.40,7.40 0 0 1 23.79,9.32 A4.10,4.10 0 1 1 25.60,17.10 Z" fill="url(#cloudG)" stroke="#84b2cc" stroke-width="1.4"/></g>
<g transform="translate(202.70,266.90)"><path d="M6.00,17.10 A5.10,5.10 0 1 1 9.19,8.02 A7.40,7.40 0 0 1 23.79,9.32 A4.10,4.10 0 1 1 25.60,17.10 Z" fill="url(#cloudG)" stroke="#84b2cc" stroke-width="1.4"/></g>
<g transform="translate(212.50,172.80)"><path d="M6.00,17.10 A5.10,5.10 0 1 1 9.19,8.02 A7.40,7.40 0 0 1 23.79,9.32 A4.10,4.10 0 1 1 25.60,17.10 Z" fill="url(#cloudG)" stroke="#84b2cc" stroke-width="1.4"/></g>
<g transform="translate(238.30,280.00)"><circle r="9.8" fill="#ece9c6" stroke="#3a3a3a" stroke-width="1.2"/><path d="M1.6,-9.0 C5.2,-4.8 4.9,4.0 -2.8,8.6 A9.05,9.05 0 0 1 1.6,-9.0 Z" fill="#5b5b5b" stroke="#3a3a3a" stroke-width="0.9"/></g>
<g transform="translate(232.60,293.60)"><path d="M6.00,17.10 A5.10,5.10 0 1 1 9.19,8.02 A7.40,7.40 0 0 1 23.79,9.32 A4.10,4.10 0 1 1 25.60,17.10 Z" fill="url(#cloudG)" stroke="#84b2cc" stroke-width="1.4"/></g>
<g transform="translate(242.20,312.20)"><path d="M6.00,17.10 A5.10,5.10 0 1 1 9.19,8.02 A7.40,7.40 0 0 1 23.79,9.32 A4.10,4.10 0 1 1 25.60,17.10 Z" fill="url(#cloudG)" stroke="#84b2cc" stroke-width="1.4"/></g>
<g transform="translate(252.10,231.70)"><path d="M6.00,17.10 A5.10,5.10 0 1 1 9.19,8.02 A7.40,7.40 0 0 1 23.79,9.32 A4.10,4.10 0 1 1 25.60,17.10 Z" fill="url(#cloudG)" stroke="#84b2cc" stroke-width="1.4"/></g>
<g transform="translate(262.10,303.50)"><path d="M6.00,17.10 A5.10,5.10 0 1 1 9.19,8.02 A7.40,7.40 0 0 1 23.79,9.32 A4.10,4.10 0 1 1 25.60,17.10 Z" fill="url(#cloudG)" stroke="#84b2cc" stroke-width="1.4"/></g>
<g transform="translate(272.00,331.50)"><path d="M6.00,17.10 A5.10,5.10 0 1 1 9.19,8.02 A7.40,7.40 0 0 1 23.79,9.32 A4.10,4.10 0 1 1 25.60,17.10 Z" fill="url(#cloudG)" stroke="#84b2cc" stroke-width="1.4"/></g>
<g transform="translate(281.90,338.10)"><path d="M6.00,17.10 A5.10,5.10 0 1 1 9.19,8.02 A7.40,7.40 0 0 1 23.79,9.32 A4.10,4.10 0 1 1 25.60,17.10 Z" fill="url(#cloudG)" stroke="#84b2cc" stroke-width="1.4"/></g>
<g transform="translate(291.80,343.60)"><path d="M6.00,17.10 A5.10,5.10 0 1 1 9.19,8.02 A7.40,7.40 0 0 1 23.79,9.32 A4.10,4.10 0 1 1 25.60,17.10 Z" fill="url(#cloudG)" stroke="#84b2cc" stroke-width="1.4"/></g>
<g transform="translate(301.20,357.90)"><path d="M6.00,17.10 A5.10,5.10 0 1 1 9.19,8.02 A7.40,7.40 0 0 1 23.79,9.32 A4.10,4.10 0 1 1 25.60,17.10 Z" fill="url(#cloudG)" stroke="#84b2cc" stroke-width="1.4"/></g>
<g transform="translate(311.10,415.20)"><path d="M6.00,17.10 A5.10,5.10 0 1 1 9.19,8.02 A7.40,7.40 0 0 1 23.79,9.32 A4.10,4.10 0 1 1 25.60,17.10 Z" fill="url(#cloudG)" stroke="#84b2cc" stroke-width="1.4"/></g>
<g transform="translate(320.70,428.60)"><path d="M6.00,17.10 A5.10,5.10 0 1 1 9.19,8.02 A7.40,7.40 0 0 1 23.79,9.32 A4.10,4.10 0 1 1 25.60,17.10 Z" fill="url(#cloudG)" stroke="#84b2cc" stroke-width="1.4"/></g>
<g transform="translate(331.20,407.60)"><path d="M6.00,17.10 A5.10,5.10 0 1 1 9.19,8.02 A7.40,7.40 0 0 1 23.79,9.32 A4.10,4.10 0 1 1 25.60,17.10 Z" fill="url(#darkG)" stroke="#4a4a4a" stroke-width="1.4"/></g><ellipse cx="341.9" cy="423.9" rx="1.5" ry="2.6" fill="#2c6c9e" transform="rotate(25 341.9 423.9)"/><ellipse cx="349.9" cy="426.6" rx="1.5" ry="2.6" fill="#2c6c9e" transform="rotate(25 349.9 426.6)"/><ellipse cx="335.0" cy="429.2" rx="1.5" ry="2.6" fill="#2c6c9e" transform="rotate(25 335.0 429.2)"/><ellipse cx="342.4" cy="431.4" rx="1.5" ry="2.6" fill="#2c6c9e" transform="rotate(25 342.4 431.4)"/><ellipse cx="355.3" cy="429.2" rx="1.5" ry="2.6" fill="#2c6c9e" transform="rotate(25 355.3 429.2)"/><ellipse cx="347.8" cy="435.6" rx="1.5" ry="2.6" fill="#2c6c9e" transform="rotate(25 347.8 435.6)"/><ellipse cx="331.7" cy="438.9" rx="1.5" ry="2.6" fill="#2c6c9e" transform="rotate(25 331.7 438.9)"/><ellipse cx="338.2" cy="441.0" rx="1.5" ry="2.6" fill="#2c6c9e" transform="rotate(25 338.2 441.0)"/><ellipse cx="332.8" cy="446.3" rx="1.5" ry="2.6" fill="#2c6c9e" transform="rotate(25 332.8 446.3)"/><ellipse cx="344.6" cy="446.3" rx="1.5" ry="2.6" fill="#2c6c9e" transform="rotate(25 344.6 446.3)"/>
<g transform="translate(341.10,473.90)"><path d="M6.00,17.10 A5.10,5.10 0 1 1 9.19,8.02 A7.40,7.40 0 0 1 23.79,9.32 A4.10,4.10 0 1 1 25.60,17.10 Z" fill="url(#cloudG)" stroke="#84b2cc" stroke-width="1.4"/></g><circle cx="352.4" cy="491.7" r="1.2" fill="#3a78a8"/><circle cx="358.4" cy="493.7" r="1.2" fill="#3a78a8"/><circle cx="364.4" cy="491.7" r="1.2" fill="#3a78a8"/><circle cx="355.4" cy="498.7" r="1.2" fill="#3a78a8"/><circle cx="362.4" cy="499.7" r="1.2" fill="#3a78a8"/>
<g transform="translate(349.90,501.10)"><path d="M6.00,17.10 A5.10,5.10 0 1 1 9.19,8.02 A7.40,7.40 0 0 1 23.79,9.32 A4.10,4.10 0 1 1 25.60,17.10 Z" fill="url(#cloudG)" stroke="#84b2cc" stroke-width="1.4"/></g><circle cx="361.2" cy="518.9" r="1.2" fill="#3a78a8"/><circle cx="367.2" cy="520.9" r="1.2" fill="#3a78a8"/><circle cx="373.2" cy="518.9" r="1.2" fill="#3a78a8"/><circle cx="364.2" cy="525.9" r="1.2" fill="#3a78a8"/><circle cx="371.2" cy="526.9" r="1.2" fill="#3a78a8"/>
<g transform="translate(360.80,510.10)"><path d="M6.00,17.10 A5.10,5.10 0 1 1 9.19,8.02 A7.40,7.40 0 0 1 23.79,9.32 A4.10,4.10 0 1 1 25.60,17.10 Z" fill="url(#cloudG)" stroke="#84b2cc" stroke-width="1.4"/></g>
<g transform="translate(370.20,524.90)"><path d="M6.00,17.10 A5.10,5.10 0 1 1 9.19,8.02 A7.40,7.40 0 0 1 23.79,9.32 A4.10,4.10 0 1 1 25.60,17.10 Z" fill="url(#cloudG)" stroke="#84b2cc" stroke-width="1.4"/></g>
<g transform="translate(380.10,534.80)"><path d="M6.00,17.10 A5.10,5.10 0 1 1 9.19,8.02 A7.40,7.40 0 0 1 23.79,9.32 A4.10,4.10 0 1 1 25.60,17.10 Z" fill="url(#cloudG)" stroke="#84b2cc" stroke-width="1.4"/></g>
<g transform="translate(390.00,552.90)"><path d="M6.00,17.10 A5.10,5.10 0 1 1 9.19,8.02 A7.40,7.40 0 0 1 23.79,9.32 A4.10,4.10 0 1 1 25.60,17.10 Z" fill="url(#cloudG)" stroke="#84b2cc" stroke-width="1.4"/></g>
<g transform="translate(400.30,520.00)"><path d="M6.00,17.10 A5.10,5.10 0 1 1 9.19,8.02 A7.40,7.40 0 0 1 23.79,9.32 A4.10,4.10 0 1 1 25.60,17.10 Z" fill="url(#cloudG)" stroke="#84b2cc" stroke-width="1.4"/></g>
<g transform="translate(409.90,365.20)"><path d="M6.00,17.10 A5.10,5.10 0 1 1 9.19,8.02 A7.40,7.40 0 0 1 23.79,9.32 A4.10,4.10 0 1 1 25.60,17.10 Z" fill="url(#cloudG)" stroke="#84b2cc" stroke-width="1.4"/></g>
<g transform="translate(419.70,415.50)"><path d="M6.00,17.10 A5.10,5.10 0 1 1 9.19,8.02 A7.40,7.40 0 0 1 23.79,9.32 A4.10,4.10 0 1 1 25.60,17.10 Z" fill="url(#cloudG)" stroke="#84b2cc" stroke-width="1.4"/></g>
<g transform="translate(429.70,450.00)"><path d="M6.00,17.10 A5.10,5.10 0 1 1 9.19,8.02 A7.40,7.40 0 0 1 23.79,9.32 A4.10,4.10 0 1 1 25.60,17.10 Z" fill="url(#cloudG)" stroke="#84b2cc" stroke-width="1.4"/></g>
<g transform="translate(440.00,435.20)"><path d="M6.00,17.10 A5.10,5.10 0 1 1 9.19,8.02 A7.40,7.40 0 0 1 23.79,9.32 A4.10,4.10 0 1 1 25.60,17.10 Z" fill="url(#cloudG)" stroke="#84b2cc" stroke-width="1.4"/></g>
<g transform="translate(449.40,378.40)"><path d="M6.00,17.10 A5.10,5.10 0 1 1 9.19,8.02 A7.40,7.40 0 0 1 23.79,9.32 A4.10,4.10 0 1 1 25.60,17.10 Z" fill="url(#cloudG)" stroke="#84b2cc" stroke-width="1.4"/></g>
<g transform="translate(459.20,406.00)"><path d="M6.00,17.10 A5.10,5.10 0 1 1 9.19,8.02 A7.40,7.40 0 0 1 23.79,9.32 A4.10,4.10 0 1 1 25.60,17.10 Z" fill="url(#cloudG)" stroke="#84b2cc" stroke-width="1.4"/></g>
<g transform="translate(469.10,424.40)"><path d="M6.00,17.10 A5.10,5.10 0 1 1 9.19,8.02 A7.40,7.40 0 0 1 23.79,9.32 A4.10,4.10 0 1 1 25.60,17.10 Z" fill="url(#cloudG)" stroke="#84b2cc" stroke-width="1.4"/></g>
<g transform="translate(479.10,442.10)"><path d="M6.00,17.10 A5.10,5.10 0 1 1 9.19,8.02 A7.40,7.40 0 0 1 23.79,9.32 A4.10,4.10 0 1 1 25.60,17.10 Z" fill="url(#cloudG)" stroke="#84b2cc" stroke-width="1.4"/></g>
<g transform="translate(488.80,379.00)"><path d="M6.00,17.10 A5.10,5.10 0 1 1 9.19,8.02 A7.40,7.40 0 0 1 23.79,9.32 A4.10,4.10 0 1 1 25.60,17.10 Z" fill="url(#cloudG)" stroke="#84b2cc" stroke-width="1.4"/></g>
<g transform="translate(514.00,473.50)"><circle r="9.8" fill="#ece9c6" stroke="#3a3a3a" stroke-width="1.2"/><path d="M1.6,-9.0 C5.2,-4.8 4.9,4.0 -2.8,8.6 A9.05,9.05 0 0 1 1.6,-9.0 Z" fill="#5b5b5b" stroke="#3a3a3a" stroke-width="0.9"/></g>
<g transform="translate(524.00,522.00)"><circle r="9.8" fill="#ece9c6" stroke="#3a3a3a" stroke-width="1.2"/><path d="M1.6,-9.0 C5.2,-4.8 4.9,4.0 -2.8,8.6 A9.05,9.05 0 0 1 1.6,-9.0 Z" fill="#5b5b5b" stroke="#3a3a3a" stroke-width="0.9"/></g>
<text x="247.5" y="704.6" font-size="13" font-weight="bold" text-anchor="middle" fill="#000" stroke="#fff" stroke-width="3" stroke-linejoin="round" paint-order="stroke">0.1</text>
<text x="281.5" y="699.6" font-size="13" font-weight="bold" text-anchor="middle" fill="#000" stroke="#fff" stroke-width="3" stroke-linejoin="round" paint-order="stroke">0.1</text>
<text x="291.5" y="652.2" font-size="13" font-weight="bold" text-anchor="middle" fill="#000" stroke="#fff" stroke-width="3" stroke-linejoin="round" paint-order="stroke">0.8</text>
<text x="301.6" y="672.3" font-size="13" font-weight="bold" text-anchor="middle" fill="#000" stroke="#fff" stroke-width="3" stroke-linejoin="round" paint-order="stroke">0.5</text>
<text x="310.8" y="704.6" font-size="13" font-weight="bold" text-anchor="middle" fill="#000" stroke="#fff" stroke-width="3" stroke-linejoin="round" paint-order="stroke">0.1</text>
<text x="325.4" y="681.4" font-size="13" font-weight="bold" text-anchor="middle" fill="#000" stroke="#fff" stroke-width="3" stroke-linejoin="round" paint-order="stroke">0.4</text>
<text x="297.0" y="462.5" font-size="13" font-weight="bold" text-anchor="middle" fill="#000" stroke="#fff" stroke-width="3" stroke-linejoin="round" paint-order="stroke">3.3</text>
<text x="330.0" y="402.5" font-size="13" font-weight="bold" text-anchor="middle" fill="#000" stroke="#fff" stroke-width="3" stroke-linejoin="round" paint-order="stroke">4.1</text>
<text x="335.8" y="535.3" font-size="13" font-weight="bold" text-anchor="middle" fill="#000" stroke="#fff" stroke-width="3" stroke-linejoin="round" paint-order="stroke">2.3</text>
<text x="345.5" y="459.5" font-size="13" font-weight="bold" text-anchor="middle" fill="#000" stroke="#fff" stroke-width="3" stroke-linejoin="round" paint-order="stroke">3.3</text>
<text x="351.0" y="179.7" font-size="13" font-weight="bold" text-anchor="middle" fill="#000" stroke="#fff" stroke-width="3" stroke-linejoin="round" paint-order="stroke">7.0</text>
<text x="356.0" y="307.7" font-size="13" font-weight="bold" text-anchor="middle" fill="#000" stroke="#fff" stroke-width="3" stroke-linejoin="round" paint-order="stroke">5.3</text>
<text x="366.0" y="368.5" font-size="13" font-weight="bold" text-anchor="middle" fill="#000" stroke="#fff" stroke-width="3" stroke-linejoin="round" paint-order="stroke">4.5</text>
<text x="370.9" y="449.5" font-size="13" font-weight="bold" text-anchor="middle" fill="#000" stroke="#fff" stroke-width="3" stroke-linejoin="round" paint-order="stroke">3.4</text>
<text x="376.5" y="591.5" font-size="13" font-weight="bold" text-anchor="middle" fill="#000" stroke="#fff" stroke-width="3" stroke-linejoin="round" paint-order="stroke">1.6</text>
<text x="381.0" y="672.7" font-size="13" font-weight="bold" text-anchor="middle" fill="#000" stroke="#fff" stroke-width="3" stroke-linejoin="round" paint-order="stroke">0.5</text>
<text x="384.0" y="694.7" font-size="13" font-weight="bold" text-anchor="middle" fill="#000" stroke="#fff" stroke-width="3" stroke-linejoin="round" paint-order="stroke">0.2</text>
<text x="419.5" y="704.6" font-size="13" font-weight="bold" text-anchor="middle" fill="#000" stroke="#fff" stroke-width="3" stroke-linejoin="round" paint-order="stroke">0.1</text>
<text x="453.5" y="704.6" font-size="13" font-weight="bold" text-anchor="middle" fill="#000" stroke="#fff" stroke-width="3" stroke-linejoin="round" paint-order="stroke">0.1</text>
<g stroke="#000" fill="#000" stroke-width="2.5">
<polyline points="51.9,746.3 77.7,739.3" fill="none" stroke-linecap="square"/>
<polyline points="51.9,746.3 49.0,735.7" fill="none" stroke-linecap="square"/>
<polyline points="67.2,736.3 92.0,745.8" fill="none" stroke-linecap="square"/>
<polyline points="67.2,736.3 71.1,726.0" fill="none" stroke-linecap="square"/>
<polyline points="71.5,737.9 73.6,732.5" fill="none" stroke-linecap="square"/>
<polyline points="84.5,738.0 108.2,743.4" fill="none" stroke-linecap="square"/>
<polyline points="84.5,738.0 85.8,732.3" fill="none" stroke-linecap="square"/>
<polyline points="104.0,755.0 118.9,732.3" fill="none" stroke-linecap="square"/>
<polyline points="104.0,755.0 94.8,749.0" fill="none" stroke-linecap="square"/>
<polyline points="111.8,749.6 137.2,736.1" fill="none" stroke-linecap="square"/>
<polyline points="111.8,749.6 106.6,739.9" fill="none" stroke-linecap="square"/>
<polyline points="129.6,754.0 150.3,733.8" fill="none" stroke-linecap="square"/>
<polyline points="129.6,754.0 121.9,746.1" fill="none" stroke-linecap="square"/>
<polyline points="144.9,752.0 164.5,735.3" fill="none" stroke-linecap="square"/>
<polyline points="144.9,752.0 141.1,747.6" fill="none" stroke-linecap="square"/>
<polyline points="164.8,757.4 176.7,731.2" fill="none" stroke-linecap="square"/>
<polyline points="164.8,757.4 154.8,752.9" fill="none" stroke-linecap="square"/>
<polyline points="182.2,758.5 190.0,730.8" fill="none" stroke-linecap="square"/>
<polyline points="182.2,758.5 171.6,755.5" fill="none" stroke-linecap="square"/>
<polyline points="183.4,754.1 177.9,752.5" fill="none" stroke-linecap="square"/>
<polyline points="190.0,755.2 209.2,732.7" fill="none" stroke-linecap="square"/>
<polyline points="190.0,755.2 181.6,748.1" fill="none" stroke-linecap="square"/>
<polyline points="205.6,755.6 224.1,732.8" fill="none" stroke-linecap="square"/>
<polyline points="205.6,755.6 197.1,748.7" fill="none" stroke-linecap="square"/>
<polyline points="208.5,752.0 200.0,745.1" fill="none" stroke-linecap="square"/>
<polyline points="211.4,748.5 202.9,741.5" fill="none" stroke-linecap="square"/>
<polyline points="222.7,755.6 237.1,733.3" fill="none" stroke-linecap="square"/>
<polyline points="222.7,755.6 213.5,749.6" fill="none" stroke-linecap="square"/>
<polyline points="225.2,751.7 216.0,745.8" fill="none" stroke-linecap="square"/>
<polyline points="227.7,747.9 218.4,741.9" fill="none" stroke-linecap="square"/>
<polyline points="238.4,757.5 249.1,732.3" fill="none" stroke-linecap="square"/>
<polyline points="238.4,757.5 228.3,753.2" fill="none" stroke-linecap="square"/>
<polyline points="240.2,753.3 230.1,749.0" fill="none" stroke-linecap="square"/>
<polyline points="242.0,749.0 236.7,746.8" fill="none" stroke-linecap="square"/>
<polyline points="259.0,758.3 261.3,730.3" fill="none" stroke-linecap="square"/>
<polyline points="259.0,758.3 248.0,757.4" fill="none" stroke-linecap="square"/>
<polyline points="259.4,753.7 253.6,753.2" fill="none" stroke-linecap="square"/>
<polyline points="286.2,754.2 268.3,734.7" fill="none" stroke-linecap="square"/>
<polyline points="286.2,754.2 278.1,761.6" fill="none" stroke-linecap="square"/>
<polyline points="283.1,750.8 278.8,754.7" fill="none" stroke-linecap="square"/>
<polyline points="303.6,750.5 280.6,735.4" fill="none" stroke-linecap="square"/>
<polyline points="303.6,750.5 297.6,759.7" fill="none" stroke-linecap="square"/>
<polyline points="299.8,748.0 293.7,757.2" fill="none" stroke-linecap="square"/>
<polyline points="295.9,745.5 289.9,754.7" fill="none" stroke-linecap="square"/>
<polyline points="310.8,756.4 300.9,732.0" fill="none" stroke-linecap="square"/>
<polyline points="310.8,756.4 305.4,758.6" fill="none" stroke-linecap="square"/>
<polyline points="306.5,738.3 330.2,744.7" fill="none" stroke-linecap="square"/>
<polyline points="306.5,738.3 308.0,732.7" fill="none" stroke-linecap="square"/>
<polyline points="326.6,726.8 339.2,750.9" fill="none" stroke-linecap="square"/>
<polyline points="326.6,726.8 336.4,721.7" fill="none" stroke-linecap="square"/>
<polyline points="341.0,727.0 354.6,749.8" fill="none" stroke-linecap="square"/>
<polyline points="341.0,727.0 350.4,721.4" fill="none" stroke-linecap="square"/>
<polyline points="343.4,730.9 352.8,725.3" fill="none" stroke-linecap="square"/>
<polyline points="345.7,734.9 350.7,731.9" fill="none" stroke-linecap="square"/>
<polyline points="354.9,727.0 368.0,750.1" fill="none" stroke-linecap="square"/>
<polyline points="354.9,727.0 364.5,721.6" fill="none" stroke-linecap="square"/>
<polyline points="357.2,731.0 366.7,725.6" fill="none" stroke-linecap="square"/>
<polyline points="359.4,735.0 364.5,732.1" fill="none" stroke-linecap="square"/>
<polyline points="368.9,727.0 383.9,749.3" fill="none" stroke-linecap="square"/>
<polyline points="368.9,727.0 378.0,720.9" fill="none" stroke-linecap="square"/>
<polyline points="371.5,730.8 380.6,724.7" fill="none" stroke-linecap="square"/>
<polyline points="374.0,734.6 378.8,731.4" fill="none" stroke-linecap="square"/>
<polyline points="383.2,728.2 398.8,749.5" fill="none" stroke-linecap="square"/>
<polyline points="383.2,728.2 392.1,721.7" fill="none" stroke-linecap="square"/>
<polyline points="394.3,732.1 415.5,746.0" fill="none" stroke-linecap="square"/>
<polyline points="394.3,732.1 400.4,722.9" fill="none" stroke-linecap="square"/>
<polyline points="408.2,733.4 433.5,748.4" fill="none" stroke-linecap="square"/>
<polyline points="408.2,733.4 413.8,723.9" fill="none" stroke-linecap="square"/>
<polyline points="427.2,728.8 445.7,750.5" fill="none" stroke-linecap="square"/>
<polyline points="427.2,728.8 435.6,721.6" fill="none" stroke-linecap="square"/>
<polyline points="430.2,732.3 434.6,728.5" fill="none" stroke-linecap="square"/>
<polyline points="439.1,731.4 461.2,748.7" fill="none" stroke-linecap="square"/>
<polyline points="439.1,731.4 445.9,722.7" fill="none" stroke-linecap="square"/>
<polyline points="461.5,728.5 473.4,752.2" fill="none" stroke-linecap="square"/>
<polyline points="461.5,728.5 466.7,725.9" fill="none" stroke-linecap="square"/>
<polyline points="498.5,740.0 472.3,743.6" fill="none" stroke-linecap="square"/>
<polyline points="498.5,740.0 499.3,745.7" fill="none" stroke-linecap="square"/>
<polyline points="510.9,741.3 487.0,741.8" fill="none" stroke-linecap="square"/>
<polyline points="510.9,741.3 511.0,747.1" fill="none" stroke-linecap="square"/>
<polyline points="525.4,750.5 502.2,735.1" fill="none" stroke-linecap="square"/>
<polyline points="525.4,750.5 522.2,755.3" fill="none" stroke-linecap="square"/>
<polyline points="537.9,754.5 519.0,732.7" fill="none" stroke-linecap="square"/>
<polyline points="537.9,754.5 529.6,761.7" fill="none" stroke-linecap="square"/>
<polyline points="549.7,755.1 535.8,731.6" fill="none" stroke-linecap="square"/>
<polyline points="549.7,755.1 544.7,758.1" fill="none" stroke-linecap="square"/>
<polygon points="84.5,737.5 75.7,735.6 77.8,743.5" fill="#000" stroke-width="1.2" stroke-linejoin="miter"/>
<circle cx="79.4" cy="738.9" r="0.75" fill="#fff" stroke="none"/>
<polygon points="98.5,748.3 92.5,741.6 89.6,749.3" fill="#000" stroke-width="1.2" stroke-linejoin="miter"/>
<circle cx="93.5" cy="746.4" r="0.75" fill="#fff" stroke="none"/>
<polygon points="115.0,745.0 108.1,739.2 106.3,747.2" fill="#000" stroke-width="1.2" stroke-linejoin="miter"/>
<circle cx="109.8" cy="743.8" r="0.75" fill="#fff" stroke="none"/>
<polygon points="122.7,726.4 114.9,730.9 121.8,735.3" fill="#000" stroke-width="1.2" stroke-linejoin="miter"/>
<circle cx="119.8" cy="730.9" r="0.75" fill="#fff" stroke="none"/>
<polygon points="143.4,732.8 134.4,732.9 138.3,740.2" fill="#000" stroke-width="1.2" stroke-linejoin="miter"/>
<circle cx="138.7" cy="735.3" r="0.75" fill="#fff" stroke="none"/>
<polygon points="155.3,728.9 146.7,731.6 152.4,737.4" fill="#000" stroke-width="1.2" stroke-linejoin="miter"/>
<circle cx="151.5" cy="732.6" r="0.75" fill="#fff" stroke="none"/>
<polygon points="169.8,730.8 161.1,732.9 166.4,739.1" fill="#000" stroke-width="1.2" stroke-linejoin="miter"/>
<circle cx="165.7" cy="734.3" r="0.75" fill="#fff" stroke="none"/>
<polygon points="179.6,724.8 172.6,730.4 180.0,733.8" fill="#000" stroke-width="1.2" stroke-linejoin="miter"/>
<circle cx="177.4" cy="729.7" r="0.75" fill="#fff" stroke="none"/>
<polygon points="191.9,724.1 185.8,730.7 193.7,732.9" fill="#000" stroke-width="1.2" stroke-linejoin="miter"/>
<circle cx="190.5" cy="729.2" r="0.75" fill="#fff" stroke="none"/>
<polygon points="213.7,727.4 205.4,730.8 211.6,736.1" fill="#000" stroke-width="1.2" stroke-linejoin="miter"/>
<circle cx="210.2" cy="731.5" r="0.75" fill="#fff" stroke="none"/>
<polygon points="228.5,727.4 220.3,731.0 226.6,736.2" fill="#000" stroke-width="1.2" stroke-linejoin="miter"/>
<circle cx="225.1" cy="731.5" r="0.75" fill="#fff" stroke="none"/>
<polygon points="240.9,727.4 233.1,731.9 240.0,736.3" fill="#000" stroke-width="1.2" stroke-linejoin="miter"/>
<circle cx="238.0" cy="731.9" r="0.75" fill="#fff" stroke="none"/>
<polygon points="251.8,725.9 244.9,731.7 252.5,734.9" fill="#000" stroke-width="1.2" stroke-linejoin="miter"/>
<circle cx="249.7" cy="730.8" r="0.75" fill="#fff" stroke="none"/>
<polygon points="261.9,723.3 257.2,730.9 265.3,731.6" fill="#000" stroke-width="1.2" stroke-linejoin="miter"/>
<circle cx="261.5" cy="728.6" r="0.75" fill="#fff" stroke="none"/>
<polygon points="263.6,729.5 266.0,738.2 272.0,732.6" fill="#000" stroke-width="1.2" stroke-linejoin="miter"/>
<circle cx="267.2" cy="733.4" r="0.75" fill="#fff" stroke="none"/>
<polygon points="274.7,731.6 279.2,739.4 283.6,732.5" fill="#000" stroke-width="1.2" stroke-linejoin="miter"/>
<circle cx="279.2" cy="734.5" r="0.75" fill="#fff" stroke="none"/>
<polygon points="298.3,725.5 297.5,734.5 305.1,731.4" fill="#000" stroke-width="1.2" stroke-linejoin="miter"/>
<circle cx="300.3" cy="730.4" r="0.75" fill="#fff" stroke="none"/>
<polygon points="337.0,746.5 330.3,740.5 328.2,748.4" fill="#000" stroke-width="1.2" stroke-linejoin="miter"/>
<circle cx="331.8" cy="745.1" r="0.75" fill="#fff" stroke="none"/>
<polygon points="342.4,757.1 342.3,748.1 335.1,751.9" fill="#000" stroke-width="1.2" stroke-linejoin="miter"/>
<circle cx="339.9" cy="752.4" r="0.75" fill="#fff" stroke="none"/>
<polygon points="358.2,755.8 357.6,746.8 350.6,751.0" fill="#000" stroke-width="1.2" stroke-linejoin="miter"/>
<circle cx="355.5" cy="751.2" r="0.75" fill="#fff" stroke="none"/>
<polygon points="371.5,756.2 371.1,747.2 364.0,751.3" fill="#000" stroke-width="1.2" stroke-linejoin="miter"/>
<circle cx="368.9" cy="751.6" r="0.75" fill="#fff" stroke="none"/>
<polygon points="387.8,755.1 386.7,746.2 379.9,750.8" fill="#000" stroke-width="1.2" stroke-linejoin="miter"/>
<circle cx="384.8" cy="750.7" r="0.75" fill="#fff" stroke="none"/>
<polygon points="402.9,755.1 401.5,746.2 394.9,751.1" fill="#000" stroke-width="1.2" stroke-linejoin="miter"/>
<circle cx="399.7" cy="750.8" r="0.75" fill="#fff" stroke="none"/>
<polygon points="421.3,749.9 416.9,742.1 412.4,748.9" fill="#000" stroke-width="1.2" stroke-linejoin="miter"/>
<circle cx="416.8" cy="747.0" r="0.75" fill="#fff" stroke="none"/>
<polygon points="439.5,752.0 434.7,744.4 430.5,751.4" fill="#000" stroke-width="1.2" stroke-linejoin="miter"/>
<circle cx="434.9" cy="749.3" r="0.75" fill="#fff" stroke="none"/>
<polygon points="450.3,755.8 448.2,747.1 442.0,752.4" fill="#000" stroke-width="1.2" stroke-linejoin="miter"/>
<circle cx="446.8" cy="751.7" r="0.75" fill="#fff" stroke="none"/>
<polygon points="466.7,753.0 462.9,744.8 457.9,751.3" fill="#000" stroke-width="1.2" stroke-linejoin="miter"/>
<circle cx="462.5" cy="749.7" r="0.75" fill="#fff" stroke="none"/>
<polygon points="476.6,758.4 476.7,749.4 469.3,753.1" fill="#000" stroke-width="1.2" stroke-linejoin="miter"/>
<circle cx="474.2" cy="753.6" r="0.75" fill="#fff" stroke="none"/>
<polygon points="465.4,744.6 473.9,747.6 472.8,739.4" fill="#000" stroke-width="1.2" stroke-linejoin="miter"/>
<circle cx="470.7" cy="743.9" r="0.75" fill="#fff" stroke="none"/>
<polygon points="480.0,742.0 488.1,745.9 487.9,737.7" fill="#000" stroke-width="1.2" stroke-linejoin="miter"/>
<circle cx="485.3" cy="741.9" r="0.75" fill="#fff" stroke="none"/>
<polygon points="496.4,731.2 500.8,739.0 505.3,732.2" fill="#000" stroke-width="1.2" stroke-linejoin="miter"/>
<circle cx="500.8" cy="734.2" r="0.75" fill="#fff" stroke="none"/>
<polygon points="514.4,727.4 516.5,736.1 522.7,730.8" fill="#000" stroke-width="1.2" stroke-linejoin="miter"/>
<circle cx="517.9" cy="731.4" r="0.75" fill="#fff" stroke="none"/>
<polygon points="532.2,725.6 532.8,734.6 539.8,730.4" fill="#000" stroke-width="1.2" stroke-linejoin="miter"/>
<circle cx="534.9" cy="730.2" r="0.75" fill="#fff" stroke="none"/>
</g>
</svg></body></html>
